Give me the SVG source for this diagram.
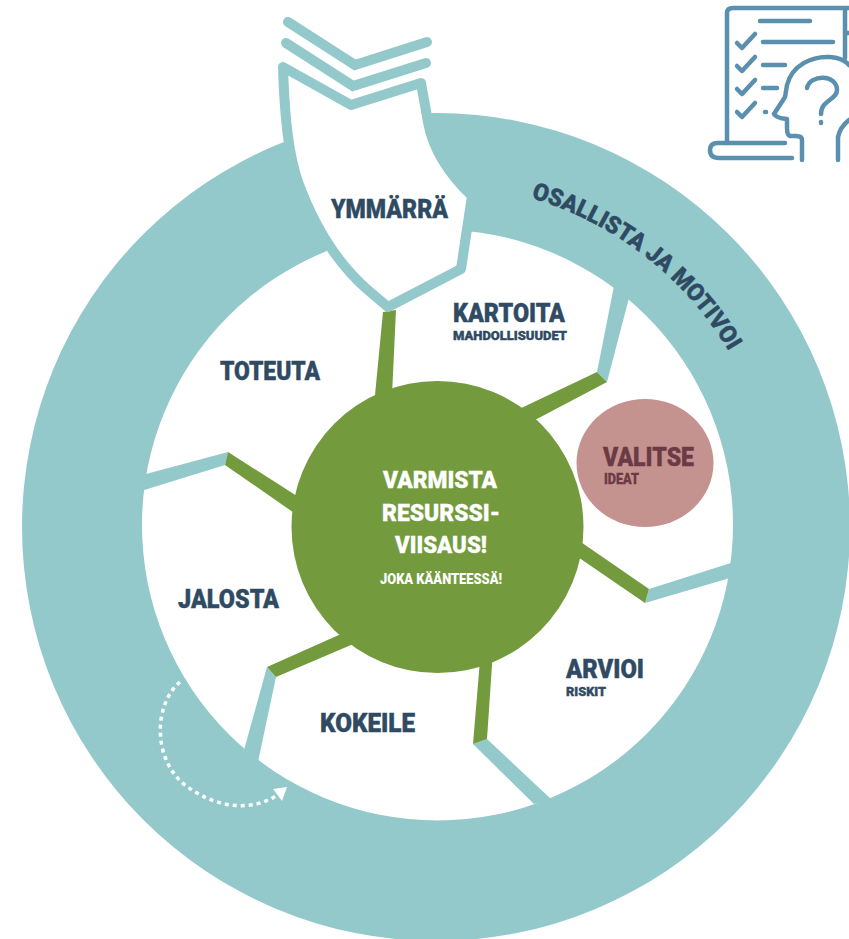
<svg xmlns="http://www.w3.org/2000/svg" width="849" height="939" viewBox="0 0 849 939">
<style>
text{font-family:Roboto,"Liberation Sans",sans-serif;font-weight:900}
.n{fill:#2f4a63;stroke:#2f4a63;stroke-width:.4}
.t{fill:#93c9cb}
.g{fill:#739b3d}
.i{fill:none;stroke:#5a8fae;stroke-width:4.5;stroke-linecap:round;stroke-linejoin:round}
.h{font-size:25px}
.s{font-size:13px}
.w{fill:#fff;stroke:#fff;stroke-width:.3;font-size:24px;text-anchor:middle}
</style>
<defs><path id="arc" d="M531,198A343,343 0 0 1 728,350"/></defs>
<rect width="849" height="939" fill="#fff"/>
<g id="ring">
<path fill="#93c9cb" fill-rule="evenodd" d="M22,527A414,414 0 1 1 850,527A414,414 0 1 1 22,527ZM142,525A295.500,295.500 0 1 0 733,525A295.500,295.500 0 1 0 142,525Z"/>
<text class="n" font-size="24" textLength="256" lengthAdjust="spacingAndGlyphs"><textPath href="#arc">OSALLISTA JA MOTIVOI</textPath></text>
</g>
<g id="connectors">
<path class="t" d="M597,372L607,382L629,298L614,286Z"/>
<path class="t" d="M649,589L645,603L730,578L734,562Z"/>
<path class="t" d="M487,739L473,744L534,804L552,800Z"/>
<path class="t" d="M267,667L276,677L258,762L244,750Z"/>
<path class="t" d="M228,452L225,465L141,491L146,474Z"/>
<path class="g" d="M383,312L396,310L392,395L375,395Z"/>
<path class="g" d="M515,411L535,420L607,382L597,372Z"/>
<path class="g" d="M575,538L572,553L645,603L649,589Z"/>
<path class="g" d="M480,660L493,650L487,739L473,744Z"/>
<path class="g" d="M350,630L358,642L276,677L267,667Z"/>
<path class="g" d="M300,498L300,517L225,465L228,452Z"/>
</g>
<g id="ymmarra">
<path d="M283,67L351,105L421,83L428,122C433,150 450,175 472,196L461,269L388,307L369,291C335,262 312,220 298,182C290,158 285,128 283,67Z" fill="#fff" stroke="#93c9cb" stroke-width="10" stroke-linejoin="round"/>
<path d="M288,22L355,65L427,42M286,43L353,86L426,63" fill="none" stroke="#93c9cb" stroke-width="10" stroke-linecap="round"/>
<text class="n h" x="331" y="218" textLength="117" lengthAdjust="spacingAndGlyphs">YMMÄRRÄ</text>
</g>
<g id="kartoita">
<text class="n h" x="453" y="322" textLength="112" lengthAdjust="spacingAndGlyphs">KARTOITA</text>
<text class="n s" x="453" y="340" textLength="114" lengthAdjust="spacingAndGlyphs">MAHDOLLISUUDET</text>
</g>
<g id="toteuta"><text class="n h" x="220" y="380" textLength="100" lengthAdjust="spacingAndGlyphs">TOTEUTA</text></g>
<g id="jalosta"><text class="n h" x="178" y="608" textLength="101" lengthAdjust="spacingAndGlyphs">JALOSTA</text></g>
<g id="kokeile"><text class="n h" x="320" y="732" textLength="95" lengthAdjust="spacingAndGlyphs">KOKEILE</text></g>
<g id="arvioi">
<text class="n h" x="566" y="678" textLength="78" lengthAdjust="spacingAndGlyphs">ARVIOI</text>
<text class="n s" x="566" y="696" textLength="40" lengthAdjust="spacingAndGlyphs">RISKIT</text>
</g>
<g id="valitse">
<ellipse cx="645" cy="463" rx="68.500" ry="64" fill="#c49390"/>
<text x="603" y="466" font-size="26" fill="#6b3a44" stroke="#6b3a44" stroke-width=".4" textLength="91" lengthAdjust="spacingAndGlyphs">VALITSE</text>
<text x="604" y="484" font-size="14" fill="#6b3a44" stroke="#6b3a44" stroke-width=".3" textLength="35" lengthAdjust="spacingAndGlyphs">IDEAT</text>
</g>
<g id="varmista">
<circle cx="437.500" cy="527" r="146" fill="#739b3d"/>
<text class="w" x="440" y="488" textLength="114" lengthAdjust="spacingAndGlyphs">VARMISTA</text>
<text class="w" x="441" y="521" textLength="118" lengthAdjust="spacingAndGlyphs">RESURSSI-</text>
<text class="w" x="441" y="553" textLength="92" lengthAdjust="spacingAndGlyphs">VIISAUS!</text>
<text x="441" y="584" fill="#fff" font-size="14.500" text-anchor="middle" textLength="122" lengthAdjust="spacingAndGlyphs">JOKA KÄÄNTEESSÄ!</text>
</g>
<g id="cycle-arrow">
<path d="M180,682C153,705 153,760 185,785C215,808 250,812 276,796" fill="none" stroke="#fff" stroke-width="3.500" stroke-dasharray="4 4"/>
<path d="M287,787L273,789L282,801Z" fill="#fff"/>
</g>
<g id="icon">
<path class="i" d="M727,143V13Q727,8 733,8H849M845,8V58M846,33H849"/>
<path class="i" d="M760,21H810M763,42H833M763,65H785M763,88H777M765,112H766"/>
<path class="i" d="M737,43L742,48L755,34M737,66L742,71L755,57M737,89L742,94L755,80M737,112L742,117L755,103"/>
<path class="i" d="M785,143H718Q710,143 710,150Q710,158 719,158H792"/>
<path class="i" d="M802,160V140Q802,136 796,136H790Q787,135 787,128V119Q776,118 774,114L785,97L787,85C792,65 812,56 830,57Q843,58 849,65"/>
<path class="i" d="M807,88C810,74 837,74 837,90C837,100 821,100 821,114M821,122V123"/>
<path class="i" d="M838,160V137Q840,127 849,120"/>
</g>
</svg>
